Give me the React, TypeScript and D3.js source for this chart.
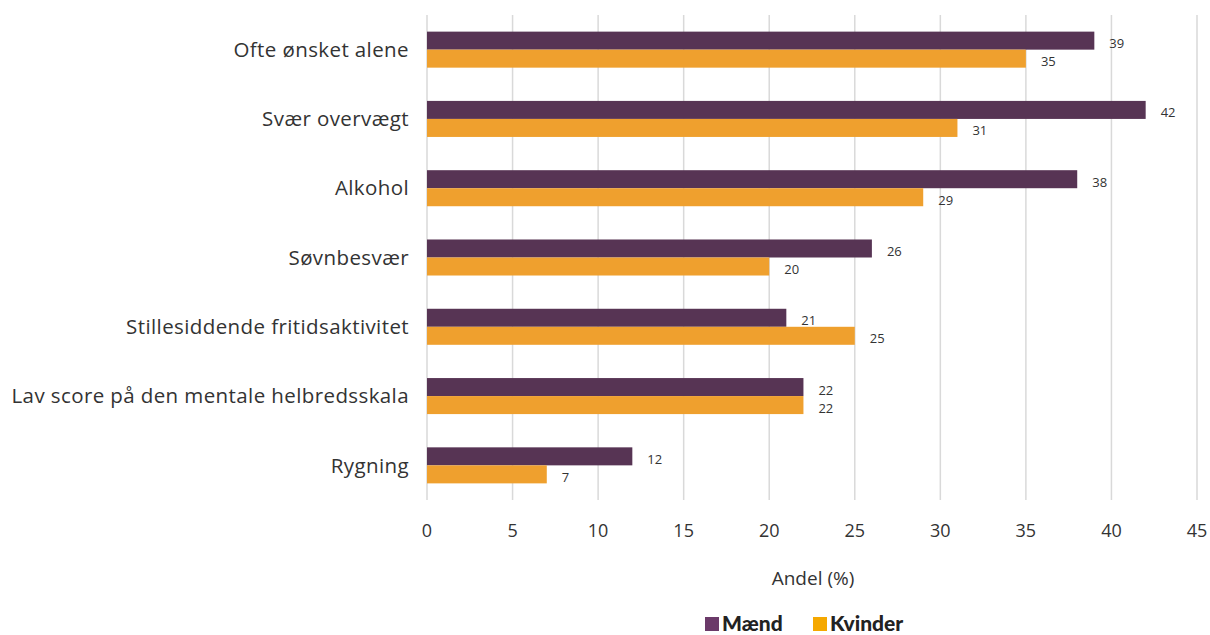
import React, { useRef, useEffect } from "react";
import * as d3 from "d3";

const categories = [
  "Ofte ønsket alene",
  "Svær overvægt",
  "Alkohol",
  "Søvnbesvær",
  "Stillesiddende fritidsaktivitet",
  "Lav score på den mentale helbredsskala",
  "Rygning",
];
const maend = [39, 42, 38, 26, 21, 22, 12];
const kvinder = [35, 31, 29, 20, 25, 22, 7];
const xTicks = [0, 5, 10, 15, 20, 25, 30, 35, 40, 45];
const seriesNames = ["Mænd", "Kvinder"];

const FONT = "'Open Sans', Lato, sans-serif";

const App = () => {
  const svgRef = useRef<SVGSVGElement>(null);

  useEffect(() => {
    const width = 1210;
    const height = 635;
    const margin = { top: 15, right: 13, bottom: 135, left: 427 };
    const innerW = width - margin.left - margin.right;
    const innerH = height - margin.top - margin.bottom;

    const svg = d3.select(svgRef.current);
    svg.selectAll("*").remove();
    svg.attr("width", width).attr("height", height);

    const g = svg
      .append("g")
      .attr("transform", `translate(${margin.left}, ${margin.top})`);

    const x = d3.scaleLinear().domain([0, 45]).range([0, innerW]);
    const y = d3
      .scaleBand()
      .domain(categories)
      .range([0, innerH])
      .paddingInner(0.48)
      .paddingOuter(0.24);
    const sub = d3
      .scaleBand()
      .domain(seriesNames)
      .range([0, y.bandwidth()]);

    const colors = { Mænd: "#573454", Kvinder: "#EFA02E" };

    // gridlines
    g.selectAll(".grid")
      .data(xTicks)
      .enter()
      .append("line")
      .attr("x1", (d) => x(d))
      .attr("x2", (d) => x(d))
      .attr("y1", 0)
      .attr("y2", innerH)
      .attr("stroke", "#d9d9d9")
      .attr("stroke-width", 1.5);

    // tick labels
    g.selectAll(".tick")
      .data(xTicks)
      .enter()
      .append("text")
      .attr("x", (d) => x(d))
      .attr("y", innerH + 37)
      .attr("text-anchor", "middle")
      .style("font-family", FONT)
      .style("font-size", "18px")
      .attr("fill", "#333")
      .text((d) => d);

    const rows = categories.map((c, i) => ({
      cat: c,
      values: [
        { key: "Mænd", value: maend[i] },
        { key: "Kvinder", value: kvinder[i] },
      ],
    }));

    const groups = g
      .selectAll(".grp")
      .data(rows)
      .enter()
      .append("g")
      .attr("transform", (d) => `translate(0, ${y(d.cat)})`);

    groups
      .selectAll("rect")
      .data((d) => d.values)
      .enter()
      .append("rect")
      .attr("x", 0)
      .attr("y", (d) => sub(d.key))
      .attr("width", (d) => x(d.value))
      .attr("height", sub.bandwidth())
      .attr("fill", (d) => colors[d.key]);

    groups
      .selectAll(".val")
      .data((d) => d.values)
      .enter()
      .append("text")
      .attr("x", (d) => x(d.value) + 15)
      .attr("y", (d) => sub(d.key) + sub.bandwidth() / 2 + 3)
      .attr("dy", "0.35em")
      .style("font-family", FONT)
      .style("font-size", "13px")
      .attr("fill", "#333")
      .text((d) => d.value);

    // category labels
    g.selectAll(".cat")
      .data(categories)
      .enter()
      .append("text")
      .attr("x", -18)
      .attr("y", (d) => y(d) + y.bandwidth() / 2)
      .attr("dy", "0.35em")
      .attr("text-anchor", "end")
      .style("font-family", FONT)
      .style("font-size", "20.5px")
      .style("letter-spacing", "0.4px")
      .attr("fill", "#333")
      .text((d) => d);

    // axis title
    g.append("text")
      .attr("x", innerW / 2 + 1)
      .attr("y", innerH + 85)
      .attr("text-anchor", "middle")
      .style("font-family", FONT)
      .style("font-size", "19px")
      .attr("fill", "#333")
      .text("Andel (%)");

    // legend
    const legendColors = ["#6B3A69", "#F5A800"];
    const legendX = [705, 813];
    const legend = svg
      .selectAll(".leg")
      .data(seriesNames)
      .enter()
      .append("g")
      .attr("transform", (d, i) => `translate(${legendX[i]}, 617)`);
    legend
      .append("rect")
      .attr("width", 14)
      .attr("height", 14)
      .attr("fill", (d, i) => legendColors[i]);
    legend
      .append("text")
      .attr("x", 17)
      .attr("y", 14)
      .style("font-family", "Lato, sans-serif")
      .style("font-size", "21px")
      .style("font-weight", "900")
      .attr("fill", "#222")
      .text((d) => d);
  }, []);

  return <svg ref={svgRef} style={{ position: "absolute", left: 0, top: 0 }}></svg>;
};

export default App;
